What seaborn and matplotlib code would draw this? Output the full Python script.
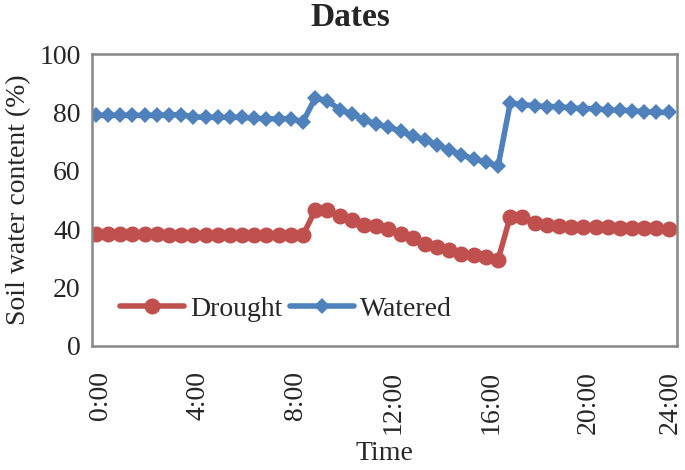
# soil water content over one day, drought vs watered

import matplotlib
matplotlib.use('Agg')
import matplotlib.pyplot as plt
import matplotlib.transforms as mtransforms
from matplotlib.ticker import MultipleLocator
import pandas as pd
import seaborn as sns

times = ["0:10", "0:40", "1:10", "1:40", "2:10", "2:40", "3:10", "3:40",
         "4:10", "4:40", "5:10", "5:40", "6:10", "6:40", "7:10", "7:40",
         "8:10", "8:40", "9:10", "9:40", "10:10", "10:40", "11:10", "11:40",
         "12:10", "12:40", "13:10", "13:40", "14:10", "14:40", "15:10", "15:40",
         "16:10", "16:40", "17:10", "17:40", "18:10", "18:40", "19:10", "19:40",
         "20:10", "20:40", "21:10", "21:40", "22:10", "22:40", "23:10", "23:40"]

drought = [38.5, 38.5, 38.5, 38.5, 38.5, 38.3, 38.0, 38.0,
           38.0, 38.0, 38.0, 38.0, 38.0, 38.0, 38.0, 38.0,
           38.0, 38.0, 46.5, 46.5, 44.5, 43.0, 41.5, 41.0,
           40.0, 38.5, 37.0, 35.0, 34.0, 33.0, 31.5, 31.0,
           30.5, 29.5, 44.3, 44.3, 42.0, 41.4, 41.2, 40.9,
           40.9, 40.9, 40.6, 40.5, 40.5, 40.3, 40.3, 40.0]

watered = [79.0, 79.0, 79.0, 79.0, 79.0, 79.0, 79.2, 79.2,
           78.5, 78.3, 78.3, 78.3, 78.3, 78.0, 77.8, 77.8,
           77.8, 76.8, 85.0, 84.0, 81.0, 79.5, 77.5, 76.0,
           75.0, 73.5, 72.0, 70.5, 69.0, 67.0, 65.5, 64.0,
           63.0, 61.5, 83.2, 82.7, 82.3, 82.0, 82.0, 81.5,
           81.3, 81.3, 80.8, 80.8, 80.5, 80.3, 80.0, 80.0]

hour_ticks = [0, 4, 8, 12, 16, 20, 24]
hour_labels = ["0:00", "4:00", "8:00", "12:00", "16:00", "20:00", "24:00"]

hours = pd.to_timedelta([t + ":00" for t in times]).total_seconds() / 3600
df = pd.DataFrame({"Hour": hours, "Drought": drought, "Watered": watered})

red = "#C0504D"
blue = "#4F81BD"
grey = "#868686"

sns.set_style("white")
plt.rcParams["font.family"] = ["Liberation Serif", "DejaVu Serif"]

fig = plt.figure(figsize=(6.85, 4.70), dpi=100)
ax = fig.add_axes([0.134, 0.264, 0.854, 0.621])

sns.lineplot(data=df, x="Hour", y="Drought", color=red, marker="o",
             markersize=11.5, markeredgewidth=0, linewidth=4, label="Drought", ax=ax)
sns.lineplot(data=df, x="Hour", y="Watered", color=blue, marker="D",
             markersize=8.5, markeredgewidth=0, linewidth=4, label="Watered", ax=ax)

ax.set_xlim(0, 24)
ax.set_ylim(0, 100)
ax.set_xticks(hour_ticks)
ax.set_xticklabels(hour_labels, rotation=90)
ax.xaxis.set_minor_locator(MultipleLocator(2))
ax.set_yticks([0, 20, 40, 60, 80, 100])

ax.tick_params(axis='both', which='both', direction='in', length=5, width=1.5,
               color=grey, labelsize=20)
ax.tick_params(axis='x', pad=18)
ax.tick_params(axis='y', pad=8)

# rotated labels sit a bit right of their ticks, last one pulled back in
xlabs = ax.get_xticklabels()
for lab in xlabs[:-1]:
    lab.set_transform(lab.get_transform() + mtransforms.ScaledTranslation(0.09, 0, fig.dpi_scale_trans))
xlabs[-1].set_transform(xlabs[-1].get_transform() + mtransforms.ScaledTranslation(-0.07, 0, fig.dpi_scale_trans))

for s in ax.spines.values():
    s.set_color(grey)
    s.set_linewidth(1.8)

fig.text(0.512, 0.962, "Dates", fontsize=24, fontweight='bold', ha='center', va='center')
ax.set_xlabel("Time", fontsize=20)
ax.xaxis.set_label_coords(0.5, -0.325)
ax.set_ylabel("Soil water content (%)", fontsize=20, labelpad=6)

ax.legend(loc='center left', bbox_to_anchor=(0.03, 0.127), ncol=2, frameon=False,
          fontsize=20, handlelength=2.3, handletextpad=0.2, columnspacing=0.3,
          borderaxespad=0)

plt.savefig('out.png', dpi=100)
